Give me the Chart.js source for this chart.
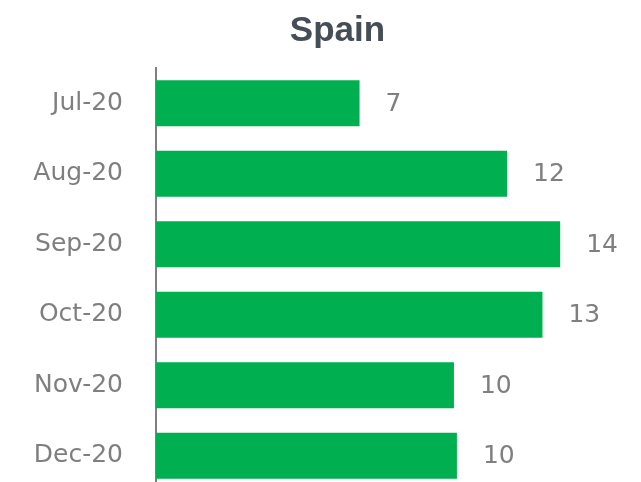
<!DOCTYPE html>
<html>
<head>
<meta charset="utf-8">
<script src="https://cdn.jsdelivr.net/npm/chart.js@4"></script>
<style>
  html, body { margin: 0; padding: 0; overflow: hidden; background: #fff; }
  canvas { display: block; }
</style>
</head>
<body>
<canvas id="myChart" width="641" height="539"></canvas>
<script>
// Chart data
const months = ["Jul-20", "Aug-20", "Sep-20", "Oct-20", "Nov-20", "Dec-20"];
const counts = [6.9, 11.9, 13.7, 13.1, 10.1, 10.2];
const chartTitle = "Spain";

const ctx = document.getElementById("myChart");
const labelFont = "'DejaVu Sans', sans-serif";

// Draw value labels to the right of each bar
const valueLabels = {
  id: "valueLabels",
  afterDatasetsDraw(chart) {
    const c = chart.ctx;
    const meta = chart.getDatasetMeta(0);
    c.save();
    c.font = "25px " + labelFont;
    c.fillStyle = "#7f7f7f";
    c.textAlign = "left";
    c.textBaseline = "middle";
    meta.data.forEach((bar, i) => {
      c.fillText(Math.round(counts[i]), bar.x + 26, bar.y + 1);
    });
    c.restore();
  },
};

const data = {
  labels: months,
  datasets: [
    {
      data: counts,
      backgroundColor: "#00b050",
      borderWidth: 0,
      categoryPercentage: 1,
      barPercentage: 0.65,
    },
  ],
};

const config = {
  type: "bar",
  data: data,
  plugins: [valueLabels],
  options: {
    indexAxis: "y",
    responsive: false,
    animation: false,
    // negative right padding moves the title centre over the bars
    layout: {
      padding: { left: 0, right: -34, top: 0, bottom: 0 },
    },
    plugins: {
      title: {
        display: true,
        text: chartTitle,
        color: "#454d56",
        font: {
          family: "'Liberation Sans', sans-serif",
          size: 35,
          weight: "bold",
        },
        padding: { top: 10, bottom: 16 },
      },
      legend: { display: false },
      tooltip: { enabled: false },
    },
    scales: {
      x: {
        display: false,
        min: 0,
        max: 16.44,
      },
      y: {
        afterFit(scale) {
          scale.width = 156;
        },
        grid: { display: false, drawTicks: false },
        border: { display: true, color: "#808080", width: 2 },
        ticks: {
          color: "#7f7f7f",
          padding: 33,
          font: {
            family: labelFont,
            size: 25,
          },
        },
      },
    },
  },
};

const myChart = new Chart(ctx, config);
</script>
</body>
</html>
